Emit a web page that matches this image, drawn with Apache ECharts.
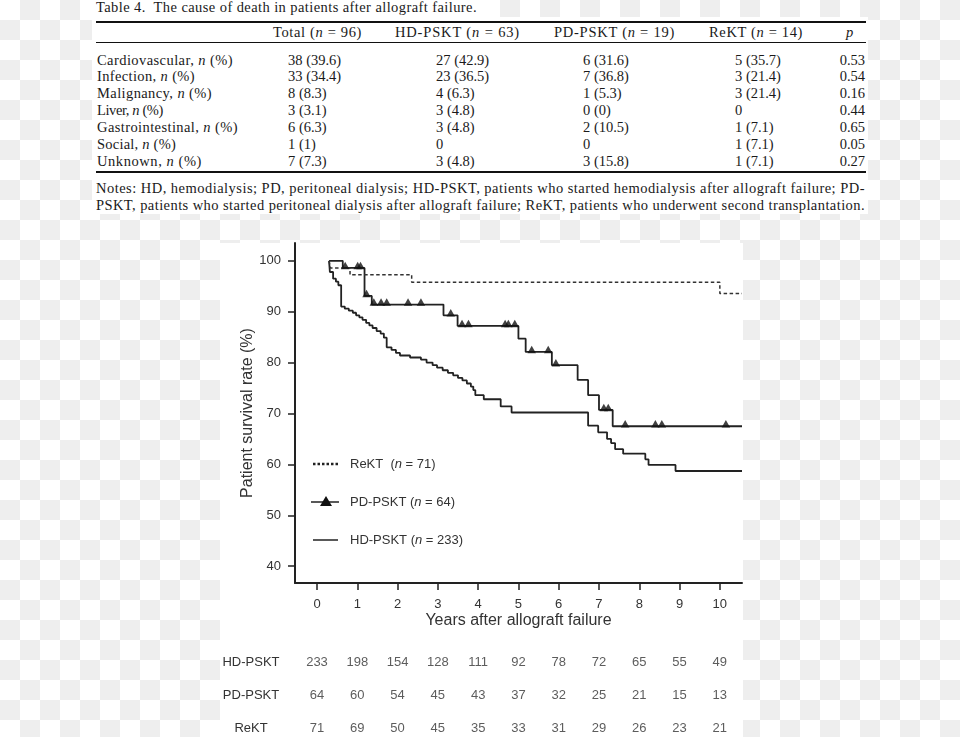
<!DOCTYPE html>
<html><head><meta charset="utf-8">
<script src="https://cdn.jsdelivr.net/npm/echarts@6/dist/echarts.min.js"></script>
<style>
html,body{margin:0;padding:0;}
body{width:960px;height:737px;position:relative;overflow:hidden;
 background:repeating-conic-gradient(#eeeeee 0% 25%, #ffffff 0% 50%) 0 0/40px 40px;}
.white{position:absolute;background:#fff;}
#tbl{position:absolute;left:0;top:0;width:960px;height:737px;font-family:"Liberation Serif","Times New Roman",serif;font-size:14.5px;color:#1a1a1a;}
.t{position:absolute;white-space:pre;line-height:17px;}
.rule{position:absolute;background:#111;left:96px;width:770px;}
#chart{position:absolute;left:0;top:0;width:960px;height:737px;}
</style></head>
<body>
<div class="white" style="left:92px;top:0;width:388px;height:17px"></div>
<div class="white" style="left:92px;top:17px;width:776px;height:197px"></div>
<div class="white" style="left:220px;top:243px;width:523px;height:494px"></div>
<div id="tbl"></div>
<div id="chart"></div>
<script>
// ---------- table data ----------
const tableTitle = 'Table 4.  The cause of death in patients after allograft failure.';
const tableHeaders = ['Total (<i>n</i> = 96)', 'HD-PSKT (<i>n</i> = 63)', 'PD-PSKT (<i>n</i> = 19)', 'ReKT (<i>n</i> = 14)', '<i>p</i>'];
const causes = ['Cardiovascular', 'Infection', 'Malignancy', 'Liver', 'Gastrointestinal', 'Social', 'Unknown'];
const totalCol = ['38 (39.6)', '33 (34.4)', '8 (8.3)', '3 (3.1)', '6 (6.3)', '1 (1)', '7 (7.3)'];
const hdCol = ['27 (42.9)', '23 (36.5)', '4 (6.3)', '3 (4.8)', '3 (4.8)', '0', '3 (4.8)'];
const pdCol = ['6 (31.6)', '7 (36.8)', '1 (5.3)', '0 (0)', '2 (10.5)', '0', '3 (15.8)'];
const rektCol = ['5 (35.7)', '3 (21.4)', '3 (21.4)', '0', '1 (7.1)', '1 (7.1)', '1 (7.1)'];
const pCol = ['0.53', '0.54', '0.16', '0.44', '0.65', '0.05', '0.27'];
const notes = ['Notes: HD, hemodialysis; PD, peritoneal dialysis; HD-PSKT, patients who started hemodialysis after allograft failure; PD-',
               'PSKT, patients who started peritoneal dialysis after allograft failure; ReKT, patients who underwent second transplantation.'];

// ---------- chart data ----------
const years = [0, 1, 2, 3, 4, 5, 6, 7, 8, 9, 10];
const yTicks = [40, 50, 60, 70, 80, 90, 100];
const hdSurv = [[0.30,100],[0.32,97.8],[0.40,96.5],[0.47,95.9],[0.53,95.2],[0.60,91.0],[0.69,90.6],[0.79,90.2],
  [0.89,89.8],[0.97,89.3],[1.05,88.9],[1.13,88.4],[1.22,87.8],[1.30,87.3],[1.38,86.8],[1.48,86.2],[1.58,85.7],
  [1.66,84.9],[1.73,83.0],[1.85,82.5],[1.96,81.9],[2.06,81.4],[2.31,81.0],[2.58,80.6],[2.72,80.0],[2.87,79.5],
  [2.98,79.0],[3.12,78.5],[3.25,78.0],[3.38,77.5],[3.50,77.0],[3.61,76.5],[3.72,75.9],[3.82,75.3],[3.88,74.6],
  [3.93,73.6],[4.14,72.8],[4.56,71.4],[4.83,70.2],[6.73,67.6],[6.98,66.3],[7.20,65.0],[7.30,64.2],[7.40,63.0],
  [7.60,62.1],[8.15,61.0],[8.23,59.9],[8.90,58.7],[10.55,58.7]];
const pdSurv = [[0.30,100],[0.64,98.6],[1.18,93.1],[1.36,91.4],[3.14,89.3],[3.49,87.2],[5.00,84.7],[5.18,82.1],
  [5.83,79.5],[6.47,76.6],[6.73,73.6],[7.00,70.7],[7.34,67.5],[10.55,67.5]];
const pdCensor = [[0.70,98.6],[1.01,98.6],[1.08,98.6],[1.23,93.1],[1.41,91.4],[1.59,91.4],[1.73,91.4],[2.26,91.4],
  [2.58,91.4],[3.32,89.3],[3.60,87.2],[3.76,87.2],[4.67,87.2],[4.75,87.2],[4.91,87.2],[5.33,82.1],[5.74,82.1],
  [5.93,79.5],[7.12,70.7],[7.23,70.7],[7.65,67.5],[8.40,67.5],[8.56,67.5],[10.15,67.5]];
const rektSurv = [[0.30,100],[0.33,98.6],[0.82,97.25],[2.35,95.8],[10.00,93.6],[10.55,93.6]];
const riskGroups = ['HD-PSKT', 'PD-PSKT', 'ReKT'];
const hdRisk = [233, 198, 154, 128, 111, 92, 78, 72, 65, 55, 49];
const pdRisk = [64, 60, 54, 45, 43, 37, 32, 25, 21, 15, 13];
const rektRisk = [71, 69, 50, 45, 35, 33, 31, 29, 26, 23, 21];

// ---------- build table (HTML text) ----------
const tbl = document.getElementById('tbl');
function put(html, x, cy, align, targetW) {
  const d = document.createElement('div');
  d.className = 't';
  d.innerHTML = html;
  d.style.top = (cy - 8.5) + 'px';
  tbl.appendChild(d);
  let w = d.getBoundingClientRect().width;
  if (targetW) {
    const n = d.textContent.length;
    d.style.letterSpacing = ((targetW - w) / n) + 'px';
    w = d.getBoundingClientRect().width;
  }
  let left = x;
  if (align === 'center') left = x - w / 2;
  else if (align === 'right') left = x - w;
  d.style.left = left + 'px';
  return d;
}
function rule(y, h) {
  const r = document.createElement('div');
  r.className = 'rule';
  r.style.top = y + 'px'; r.style.height = h + 'px';
  tbl.appendChild(r);
}
put(tableTitle, 96, 7, 'left', 381);
rule(20.5, 2); rule(42, 1); rule(170.5, 2);
const headX = [317.5, 457.5, 614.5, 756, 849.5];
const headW = [89, 125, 121, 94, 0];
tableHeaders.forEach((h, i) => put(h, headX[i], 32.5, 'center', headW[i]));
const labelW = [136, 98, 115, 66, 141, 79, 105];
const colLeft = [288, 436, 583, 735];
causes.forEach((c, r) => {
  const cy = 60 + r * 16.95;
  put(c + ', <i>n</i> (%)', 97, cy, 'left', labelW[r]);
  [totalCol, hdCol, pdCol, rektCol].forEach((col, k) => put(col[r], colLeft[k], cy, 'left'));
  put(pCol[r], 865, cy, 'right');
});
notes.forEach((n, i) => put(n.replace(/&/g, '&amp;'), 96, 188.5 + i * 16.5, 'left', 769));

// ---------- chart ----------
const chart = echarts.init(document.getElementById('chart'), null, {renderer: 'canvas'});
const FONT = 'Liberation Sans, Arial, sans-serif';
const TXT = '#333';
const LINE = '#222';
const riskData = [];
[hdRisk, pdRisk, rektRisk].forEach((arr, g) => arr.forEach((v, i) => riskData.push([years[i], riskGroups[g], v])));

const option = {
  animation: false,
  backgroundColor: 'transparent',
  textStyle: {fontFamily: FONT},
  grid: [
    {left: 295, top: 243, width: 447, height: 340, outerBoundsMode: 'none', containLabel: false},
    {left: 295, top: 645.5, width: 447, height: 99, outerBoundsMode: 'none', containLabel: false}
  ],
  xAxis: [
    {type: 'value', gridIndex: 0, min: -0.546, max: 10.55,
     axisLine: {show: true, onZero: false, lineStyle: {color: LINE, width: 2}},
     axisTick: {show: true, customValues: years, length: 7, lineStyle: {color: LINE, width: 1.5}},
     axisLabel: {customValues: years, fontSize: 13, color: TXT, margin: 15, fontFamily: FONT},
     splitLine: {show: false},
     name: 'Years after allograft failure', nameLocation: 'middle', nameGap: 30,
     nameTextStyle: {fontSize: 16, color: TXT, fontFamily: FONT}},
    {type: 'value', gridIndex: 1, min: -0.546, max: 10.55, show: false}
  ],
  yAxis: [
    {type: 'value', gridIndex: 0, min: 36.7, max: 103.5,
     axisLine: {show: true, onZero: false, lineStyle: {color: LINE, width: 2}},
     axisTick: {show: true, customValues: yTicks, length: 7, lineStyle: {color: LINE, width: 1.5}},
     axisLabel: {customValues: yTicks, fontSize: 13, color: TXT, margin: 14, fontFamily: FONT},
     splitLine: {show: false},
     name: 'Patient survival rate (%)', nameLocation: 'middle', nameGap: 29,
     nameTextStyle: {fontSize: 16, color: TXT, fontFamily: FONT}},
    {type: 'category', gridIndex: 1, data: riskGroups, inverse: true,
     axisLine: {show: false}, axisTick: {show: false}, splitLine: {show: false},
     axisLabel: {fontSize: 13, color: TXT, margin: 44, align: 'center', fontFamily: FONT}}
  ],
  series: [
    {name: 'HD-PSKT', type: 'line', step: 'end', data: hdSurv, symbol: 'none',
     lineStyle: {color: LINE, width: 1.8}, xAxisIndex: 0, yAxisIndex: 0},
    {name: 'PD-PSKT', type: 'line', step: 'end', data: pdSurv, symbol: 'none',
     lineStyle: {color: LINE, width: 1.8}, xAxisIndex: 0, yAxisIndex: 0},
    {name: 'PD-PSKT censored', type: 'scatter', data: pdCensor, symbol: 'triangle', symbolSize: [8.5, 7.5],
     symbolOffset: [0, -2.5], itemStyle: {color: '#111'}, xAxisIndex: 0, yAxisIndex: 0, z: 3},
    {name: 'ReKT', type: 'line', step: 'end', data: rektSurv, symbol: 'none',
     lineStyle: {color: '#333', width: 1.5, type: [3.5, 2.5]}, xAxisIndex: 0, yAxisIndex: 0},
    {name: 'At risk', type: 'scatter', xAxisIndex: 1, yAxisIndex: 1, data: riskData, symbolSize: 0,
     itemStyle: {color: 'rgba(0,0,0,0)'},
     label: {show: true, position: 'inside', formatter: p => String(p.value[2]), fontSize: 13, color: TXT, fontFamily: FONT}}
  ],
  graphic: [
    {type: 'line', shape: {x1: 313, y1: 464, x2: 338, y2: 464}, style: {stroke: LINE, lineWidth: 2.5, lineDash: [2.5, 2]}},
    {type: 'text', x: 350, y: 464, style: {text: 'ReKT  ({i|n} = 71)', fontSize: 13, fill: TXT, fontFamily: FONT, verticalAlign: 'middle',
      rich: {i: {fontStyle: 'italic', fontSize: 13, fill: TXT, fontFamily: FONT}}}},
    {type: 'line', shape: {x1: 311, y1: 502, x2: 339, y2: 502}, style: {stroke: LINE, lineWidth: 1.5}},
    {type: 'polygon', shape: {points: [[326, 496], [332, 506], [320, 506]]}, style: {fill: '#111'}},
    {type: 'text', x: 350, y: 502, style: {text: 'PD-PSKT ({i|n} = 64)', fontSize: 13, fill: TXT, fontFamily: FONT, verticalAlign: 'middle',
      rich: {i: {fontStyle: 'italic', fontSize: 13, fill: TXT, fontFamily: FONT}}}},
    {type: 'line', shape: {x1: 313, y1: 540, x2: 338, y2: 540}, style: {stroke: LINE, lineWidth: 1.5}},
    {type: 'text', x: 350, y: 540, style: {text: 'HD-PSKT ({i|n} = 233)', fontSize: 13, fill: TXT, fontFamily: FONT, verticalAlign: 'middle',
      rich: {i: {fontStyle: 'italic', fontSize: 13, fill: TXT, fontFamily: FONT}}}}
  ]
};
chart.setOption(option);
</script>
</body></html>
